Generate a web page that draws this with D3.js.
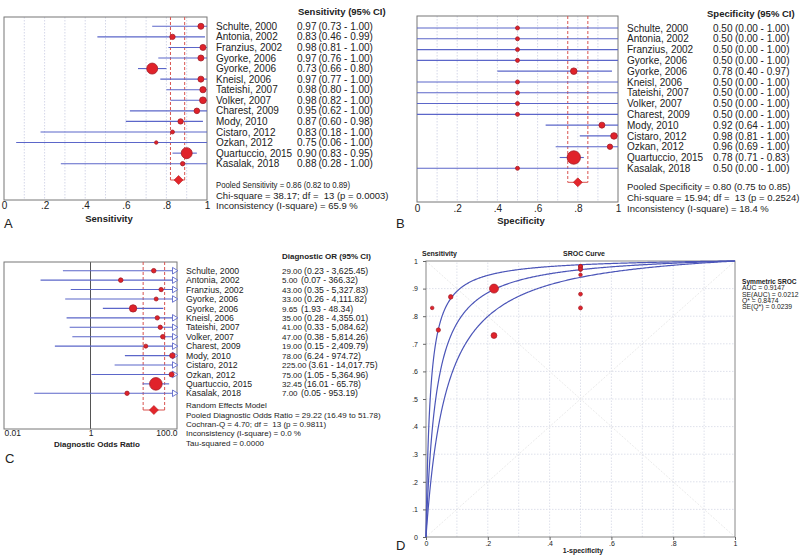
<!DOCTYPE html>
<html><head><meta charset="utf-8">
<script src="https://cdn.jsdelivr.net/npm/d3@7/dist/d3.min.js"></script>
<style>
body{margin:0;background:#fff}
text{font-family:"Liberation Sans",Arial,sans-serif;fill:#222;white-space:pre}
</style>
</head><body>
<svg id="c" width="800" height="556"></svg>
<script>
// ---------------- DATA ----------------
const studies = ["Schulte, 2000","Antonia, 2002","Franzius, 2002","Gyorke, 2006","Gyorke, 2006","Kneisl, 2006","Tateishi, 2007","Volker, 2007","Charest, 2009","Mody, 2010","Cistaro, 2012","Ozkan, 2012","Quartuccio, 2015","Kasalak, 2018"];

const sens   = [0.97,0.83,0.98,0.97,0.73,0.97,0.98,0.98,0.95,0.87,0.83,0.75,0.90,0.88];
const sensLo = [0.73,0.46,0.81,0.76,0.66,0.77,0.80,0.82,0.62,0.60,0.18,0.06,0.83,0.28];
const sensHi = [1.00,0.99,1.00,1.00,0.80,1.00,1.00,1.00,1.00,0.98,1.00,1.00,0.95,1.00];
const sensWeight = [30,24,30,30,100,30,32,38,26,24,13,10,100,16];
const sensPooled = [0.86,0.82,0.89];
const sensStats = ["Pooled Sensitivity = 0.86 (0.82 to 0.89)","Chi-square = 38.17; df =  13 (p = 0.0003)","Inconsistency (I-square) = 65.9 %"];

const spec   = [0.50,0.50,0.50,0.50,0.78,0.50,0.50,0.50,0.50,0.92,0.98,0.96,0.78,0.50];
const specLo = [0.00,0.00,0.00,0.00,0.40,0.00,0.00,0.00,0.00,0.64,0.81,0.69,0.71,0.00];
const specHi = [1.00,1.00,1.00,1.00,0.97,1.00,1.00,1.00,1.00,1.00,1.00,1.00,0.83,1.00];
const specWeight = [9,9,9,9,24,9,9,9,9,20,24,16,100,9];
const specPooled = [0.80,0.75,0.85];
const specStats = ["Pooled Specificity = 0.80 (0.75 to 0.85)","Chi-square = 15.94; df =  13 (p = 0.2524)","Inconsistency (I-square) = 18.4 %"];

const dor   = [29.00,5.00,43.00,33.00,9.65,35.00,41.00,47.00,19.00,78.00,225.00,75.00,32.45,7.00];
const dorLo = [0.23,0.07,0.35,0.26,1.93,0.28,0.33,0.38,0.15,6.24,3.61,1.05,16.01,0.05];
const dorHi = [3625.45,366.32,5327.83,4111.82,48.34,4355.01,5084.62,5814.26,2409.79,974.72,14017.75,5364.96,65.78,953.19];
const dorWeight = [13,13,12,10,34,12,12,13,10,18,10,16,100,12];
const dorPooled = [29.22,16.49,51.78];
const dorStats = ["Random Effects Model","Pooled Diagnostic Odds Ratio = 29.22 (16.49 to 51.78)","Cochran-Q = 4.70; df =  13 (p = 0.9811)","Inconsistency (I-square) = 0.0 %","Tau-squared = 0.0000"];

const srocQ = 0.8474, srocSEQ = 0.0239;
const srocLegend = ["Symmetric SROC","AUC = 0.9147","SE(AUC) = 0.0212","Q* = 0.8474","SE(Q*) = 0.0239"];

const propTicks = [0,0.2,0.4,0.6,0.8,1];
const dorTicks = [0.01,1,100];
const dorTickLabels = ["0.01","1","100.0"];

// ---------------- DRAW ----------------
const svg = d3.select("#c");
const BLUE = "#5b66c9", RED_D = "#d9534f";
const FF = "Liberation Sans, Arial, sans-serif";
const propFmt = d => d===0?"0":d===1?"1":d3.format(".1f")(d).replace(/^0/,"");

function forest(o){
  const g = svg.append("g");
  const x = o.x;
  const [xa, xb] = x.range();
  const n = studies.length;
  const y = d3.scaleLinear().domain([0,n-1]).range(o.rowY);
  const r = d3.scaleSqrt().domain([0,100]).range([0,o.rmax]);
  const vmin = x.domain()[0], vmax = x.domain()[1];
  const cx = v => x(Math.max(vmin, Math.min(vmax, v)));

  if(o.grid){
    g.selectAll(null).data(o.grid).join("line")
      .attr("x1",d=>x(d)).attr("x2",d=>x(d)).attr("y1",o.top).attr("y2",o.bottom)
      .attr("stroke","#c9cde2").attr("stroke-width",0.8).attr("stroke-dasharray","1.5,1.5");
  }
  if(o.refLine!==undefined){
    g.append("line").attr("x1",x(o.refLine)).attr("x2",x(o.refLine)).attr("y1",o.top).attr("y2",o.bottom)
      .attr("stroke","#555").attr("stroke-width",1);
  }
  g.append("rect").attr("x",xa).attr("y",o.top).attr("width",xb-xa).attr("height",o.bottom-o.top)
    .attr("fill","none").attr("stroke","#777").attr("stroke-width",1);

  // pooled dashed bracket
  const [pv,pl,ph] = o.pooled;
  [pl,ph].forEach(v=>{
    g.append("line").attr("x1",x(v)).attr("x2",x(v)).attr("y1",o.top).attr("y2",o.poolY)
      .attr("stroke",RED_D).attr("stroke-width",1).attr("stroke-dasharray","3,2");
  });
  g.append("line").attr("x1",x(pl)).attr("x2",x(ph)).attr("y1",o.poolY).attr("y2",o.poolY)
    .attr("stroke",RED_D).attr("stroke-width",1);
  const dx = x(pv), dy = o.poolY;
  g.append("path").attr("d",`M${dx-4.5},${dy}L${dx},${dy-4.5}L${dx+4.5},${dy}L${dx},${dy+4.5}Z`)
    .attr("fill","#e3262b").attr("stroke","#b71c22").attr("stroke-width",0.6);

  // CI lines
  g.selectAll(null).data(d3.range(n)).join("line")
    .attr("x1",i=>cx(o.lo[i])).attr("x2",i=>{
      const xe = cx(o.hi[i]);
      return o.hi[i]>vmax ? xe-4.5 : xe;
    })
    .attr("y1",i=>y(i)).attr("y2",i=>y(i))
    .attr("stroke",BLUE).attr("stroke-width",1.1);
  const arr = d3.range(n).filter(i=>o.hi[i]>vmax);
  g.selectAll(null).data(arr).join("path")
    .attr("d",i=>`M${xb-4.5},${y(i)-3.3}L${xb+0.8},${y(i)}L${xb-4.5},${y(i)+3.3}Z`)
    .attr("fill","#fff").attr("stroke",BLUE).attr("stroke-width",0.9);
  const pts = d3.range(n).filter(i=>o.val[i]>=vmin && o.val[i]<=vmax)
    .sort((a,b)=>o.w[b]-o.w[a]);
  g.selectAll(null).data(pts).join("circle")
    .attr("cx",i=>x(o.val[i])).attr("cy",i=>y(i)).attr("r",i=>r(o.w[i]))
    .attr("fill","#e0222a").attr("stroke","#a3202a").attr("stroke-width",0.8);

  // labels
  g.selectAll(null).data(d3.range(n)).join("text")
    .attr("x",o.labelX).attr("y",i=>y(i)+o.fs*0.36).attr("font-size",o.fs).text(i=>studies[i]);
  const vt = g.selectAll(null).data(d3.range(n)).join("text")
    .attr("x",o.valX).attr("y",i=>y(i)+o.fs*0.36).attr("font-size",o.vfs||o.fs).text(i=>o.fmt(o.val[i]));
  const vw = vt.nodes().map(nd=>nd.getComputedTextLength());
  g.selectAll(null).data(d3.range(n)).join("text")
    .attr("x",i=>Math.max(o.ciX, o.valX+vw[i]+2)).attr("y",i=>y(i)+o.fs*0.36).attr("font-size",o.fs)
    .text(i=>`(${o.fmt(o.lo[i])} - ${o.fmt(o.hi[i])})`);
  g.append("text").attr("x",o.headerX).attr("y",o.headerY).attr("font-size",o.hfs)
    .attr("font-weight","bold").text(o.header);
  const st = g.selectAll(null).data(o.stats).join("text")
    .attr("x",o.labelX).attr("y",(d,i)=>o.statsY[i]+o.sfs*0.36).attr("font-size",o.sfs).text(d=>d);
  if(o.statsLen){
    st.each(function(d,i){
      if(o.statsLen[i]) d3.select(this).attr("textLength",o.statsLen[i]).attr("lengthAdjust","spacingAndGlyphs");
    });
  }

  // axis
  const ax = g.append("g").attr("transform",`translate(0,${o.bottom})`)
    .call(d3.axisBottom(x).tickValues(o.ticks).tickSize(0).tickPadding(o.tickPad).tickFormat(o.tickFmt));
  ax.select(".domain").remove();
  ax.selectAll("text").attr("font-size",o.tfs).attr("fill","#222").style("font-family",FF);
  if(o.edgeAnchor){
    const t = ax.selectAll("text");
    t.filter((d,i)=>i===0).attr("text-anchor","start");
    t.filter((d,i,nn)=>i===nn.length-1).attr("text-anchor","end");
  }
  g.append("text").attr("x",o.titleX).attr("y",o.titleY).attr("font-size",o.titfs)
    .attr("font-weight","bold").attr("text-anchor","middle").text(o.title);
  g.append("text").attr("x",o.letterX).attr("y",o.letterY).attr("font-size",13).text(o.letter);
}

const f2 = d3.format(".2f"), fc = d3.format(",.2f");

forest({x:d3.scaleLinear().domain([0,1]).range([4,207]), top:17, bottom:200, rowY:[26.3,163.7], poolY:180,
  grid:d3.range(0.1,1,0.1), val:sens, lo:sensLo, hi:sensHi, w:sensWeight, rmax:5.5, pooled:sensPooled,
  labelX:216, valX:297, ciX:318, fs:10, fmt:f2, header:"Sensitivity (95% CI)", headerX:298, headerY:14.5, hfs:9.5,
  stats:sensStats, statsY:[185,196,206], sfs:9.5, statsLen:[134,null,null], ticks:propTicks, tickFmt:propFmt, tickPad:2, tfs:10,
  title:"Sensitivity", titleX:109, titleY:221.5, titfs:9.5, letter:"A", letterX:4, letterY:228});

forest({x:d3.scaleLinear().domain([0,1]).range([417,618]), top:16, bottom:202, rowY:[28,168.3], poolY:182.3,
  grid:d3.range(0.1,1,0.1), val:spec, lo:specLo, hi:specHi, w:specWeight, rmax:6.7, pooled:specPooled,
  labelX:627, valX:713, ciX:735, fs:10, fmt:f2, header:"Specificity (95% CI)", headerX:707, headerY:16.5, hfs:9.5,
  stats:specStats, statsY:[187,198,209], sfs:9.5, ticks:propTicks, tickFmt:propFmt, tickPad:3, tfs:10,
  title:"Specificity", titleX:521, titleY:223.5, titfs:9.5, letter:"B", letterX:396, letterY:228});

forest({x:d3.scaleLog().domain([0.01,100]).range([4,177]), top:262, bottom:429, rowY:[270.7,393.3], poolY:410,
  refLine:1, val:dor, lo:dorLo, hi:dorHi, w:dorWeight, rmax:6.3, pooled:dorPooled,
  labelX:186, valX:282, ciX:301, fs:8.7, vfs:8, fmt:fc, header:"Diagnostic OR (95% CI)", headerX:282, headerY:259, hfs:8,
  stats:dorStats, statsY:[405,415.5,424.5,433.5,443], sfs:8, ticks:dorTicks,
  tickFmt:(d,i)=>dorTickLabels[i], tickPad:1, tfs:8.5, edgeAnchor:true,
  title:"Diagnostic Odds Ratio", titleX:97, titleY:447, titfs:8, letter:"C", letterX:5, letterY:463});

// ---------------- SROC (D) ----------------
(function(){
  const g = svg.append("g");
  const x = d3.scaleLinear().domain([0,1]).range([426,735]);
  const y = d3.scaleLinear().domain([0,1]).range([537,261]);
  const g10 = d3.range(0.1,1,0.1);
  g.selectAll(null).data(g10).join("line")
    .attr("x1",d=>x(d)).attr("x2",d=>x(d)).attr("y1",y(0)).attr("y2",y(1))
    .attr("stroke","#d6d9e6").attr("stroke-width",0.8).attr("stroke-dasharray","1.5,1.5");
  g.selectAll(null).data(g10).join("line")
    .attr("y1",d=>y(d)).attr("y2",d=>y(d)).attr("x1",x(0)).attr("x2",x(1))
    .attr("stroke","#d6d9e6").attr("stroke-width",0.8).attr("stroke-dasharray","1.5,1.5");
  [[0,0,1,1],[0,1,1,0]].forEach(([a,b,c,d])=>{
    g.append("line").attr("x1",x(a)).attr("y1",y(b)).attr("x2",x(c)).attr("y2",y(d))
      .attr("stroke","#e4e4e4").attr("stroke-width",0.8).attr("stroke-dasharray","2,1.5");
  });
  g.append("rect").attr("x",x(0)).attr("y",y(1)).attr("width",x(1)-x(0)).attr("height",y(0)-y(1))
    .attr("fill","none").attr("stroke","#888").attr("stroke-width",1);

  // symmetric SROC curve (Q*) and Q* +/- 2 SE(Q*)
  const fs = d3.range(0,1.0001,0.002).map(t=>t*t*t);
  const curve = q => {
    const D = Math.pow(q/(1-q),2);
    return fs.map(f=>{
      if(f<=0) return [0,0];
      if(f>=1) return [1,1];
      const o = D*f/(1-f);
      return [f, o/(1+o)];
    });
  };
  const line = d3.line().x(d=>x(d[0])).y(d=>y(d[1]));
  [srocQ-2*srocSEQ, srocQ, srocQ+2*srocSEQ].forEach(q=>{
    g.append("path").attr("d",line(curve(q))).attr("fill","none")
      .attr("stroke","#4b55b8").attr("stroke-width",1.2);
  });

  const r = d3.scalePow().exponent(0.4).domain([0,100]).range([0,4.5]);
  const idx = d3.range(studies.length).sort((a,b)=>dorWeight[b]-dorWeight[a]);
  g.selectAll(null).data(idx).join("circle")
    .attr("cx",i=>x(1-spec[i])).attr("cy",i=>y(sens[i])).attr("r",i=>r(dorWeight[i]))
    .attr("fill","#e0222a").attr("stroke","#a3202a").attr("stroke-width",0.7);

  const ay = g.append("g").attr("transform",`translate(${x(0)},0)`)
    .call(d3.axisLeft(y).tickValues(d3.range(0,1.0001,0.1)).tickSize(3).tickPadding(5).tickFormat(propFmt));
  ay.select(".domain").remove();
  ay.selectAll("line").attr("stroke","#666");
  ay.selectAll("text").attr("font-size",7).attr("fill","#333").style("font-family",FF);
  const axx = g.append("g").attr("transform",`translate(0,${y(0)})`)
    .call(d3.axisBottom(x).tickValues(propTicks).tickSize(3).tickPadding(1).tickFormat(propFmt));
  axx.select(".domain").remove();
  axx.selectAll("line").attr("stroke","#666");
  axx.selectAll("text").attr("font-size",7).attr("fill","#333").style("font-family",FF);

  g.append("text").attr("x",422).attr("y",255.5).attr("font-size",7).attr("font-weight","bold").text("Sensitivity");
  g.append("text").attr("x",584).attr("y",255.5).attr("font-size",7).attr("font-weight","bold").attr("text-anchor","middle").text("SROC Curve");
  g.append("text").attr("x",583).attr("y",553).attr("font-size",7).attr("font-weight","bold").attr("text-anchor","middle").text("1-specificity");
  g.selectAll(null).data(srocLegend).join("text")
    .attr("x",742).attr("y",(d,i)=>284+i*6.3).attr("font-size",(d,i)=>i===0?6.6:6.8)
    .attr("font-weight",(d,i)=>i===0?"bold":"normal").attr("fill","#222").text(d=>d);
  g.append("text").attr("x",396).attr("y",550).attr("font-size",13).text("D");
})();
</script>
</body></html>
